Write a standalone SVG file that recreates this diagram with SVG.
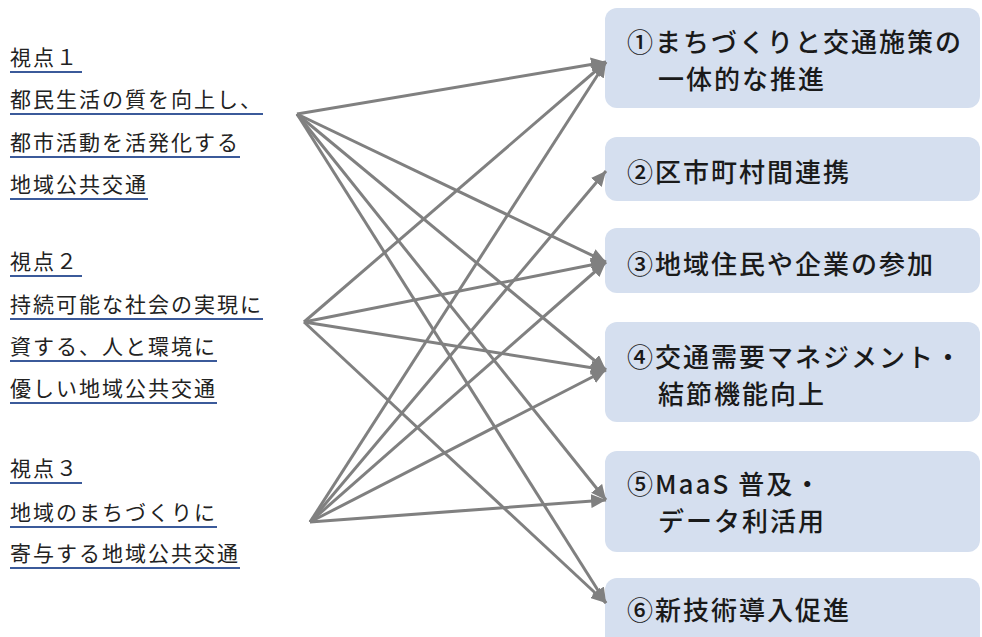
<svg xmlns="http://www.w3.org/2000/svg" width="982" height="637" viewBox="0 0 982 637">
<style>
.lt{font-family:"Noto Sans CJK JP","Noto Sans",sans-serif;font-size:21px;letter-spacing:2px;fill:#222}
.ul{stroke:#3b5a9a;stroke-width:2}
.box{fill:#d5dfef}
.bt{font-family:"Noto Sans CJK JP","Noto Sans",sans-serif;font-size:26px;font-weight:500;letter-spacing:2px;fill:#1a1a1a}
.cn{stroke:#808080;stroke-width:3;fill:none;marker-end:url(#ah)}
</style>
<defs>
<marker id="ah" markerUnits="userSpaceOnUse" markerWidth="16" markerHeight="14" refX="15" refY="7" orient="auto">
<path d="M0,0 L15,7 L0,14 z" fill="#808080"/>
</marker>
</defs>
<rect width="982" height="637" fill="#ffffff"/>
<g id="view1">
<text class="lt" x="10" y="65">視点１</text><line class="ul" x1="10" y1="72" x2="82" y2="72"/>
<text class="lt" x="10" y="107">都民生活の質を向上し、</text><line class="ul" x1="10" y1="114" x2="263" y2="114"/>
<text class="lt" x="10" y="150">都市活動を活発化する</text><line class="ul" x1="10" y1="157" x2="240" y2="157"/>
<text class="lt" x="10" y="192">地域公共交通</text><line class="ul" x1="10" y1="199" x2="148" y2="199"/>
</g>
<g id="view2">
<text class="lt" x="10" y="269">視点２</text><line class="ul" x1="10" y1="276" x2="82" y2="276"/>
<text class="lt" x="10" y="312">持続可能な社会の実現に</text><line class="ul" x1="10" y1="319" x2="263" y2="319"/>
<text class="lt" x="10" y="354">資する、人と環境に</text><line class="ul" x1="10" y1="361" x2="217" y2="361"/>
<text class="lt" x="10" y="396">優しい地域公共交通</text><line class="ul" x1="10" y1="403" x2="217" y2="403"/>
</g>
<g id="view3">
<text class="lt" x="10" y="476">視点３</text><line class="ul" x1="10" y1="483" x2="82" y2="483"/>
<text class="lt" x="10" y="520">地域のまちづくりに</text><line class="ul" x1="10" y1="527" x2="217" y2="527"/>
<text class="lt" x="10" y="561">寄与する地域公共交通</text><line class="ul" x1="10" y1="568" x2="240" y2="568"/>
</g>
<g id="box1"><rect class="box" x="605" y="8" width="375" height="100" rx="12"/>
<text class="bt" x="627" y="52">①まちづくりと交通施策の</text><text class="bt" x="658" y="89">一体的な推進</text></g>
<g id="box2"><rect class="box" x="605" y="137" width="375" height="64" rx="12"/>
<text class="bt" x="627" y="182">②区市町村間連携</text></g>
<g id="box3"><rect class="box" x="605" y="228" width="375" height="65" rx="12"/>
<text class="bt" x="627" y="274">③地域住民や企業の参加</text></g>
<g id="box4"><rect class="box" x="605" y="322" width="375" height="100" rx="12"/>
<text class="bt" x="627" y="367">④交通需要マネジメント・</text><text class="bt" x="658" y="404">結節機能向上</text></g>
<g id="box5"><rect class="box" x="605" y="451" width="375" height="101" rx="12"/>
<text class="bt" x="627" y="494">⑤MaaS 普及・</text><text class="bt" x="658" y="531">データ利活用</text></g>
<g id="box6"><rect class="box" x="605" y="578" width="375" height="75" rx="12"/>
<text class="bt" x="627" y="620">⑥新技術導入促進</text></g>
<g id="connectors">
<line class="cn" x1="297" y1="114" x2="606" y2="62"/>
<line class="cn" x1="297" y1="114" x2="606" y2="262"/>
<line class="cn" x1="297" y1="114" x2="606" y2="370"/>
<line class="cn" x1="297" y1="114" x2="606" y2="500"/>
<line class="cn" x1="297" y1="114" x2="606" y2="603"/>
<line class="cn" x1="304" y1="322" x2="606" y2="62"/>
<line class="cn" x1="304" y1="322" x2="606" y2="262"/>
<line class="cn" x1="304" y1="322" x2="606" y2="370"/>
<line class="cn" x1="304" y1="322" x2="606" y2="603"/>
<line class="cn" x1="310" y1="522" x2="606" y2="62"/>
<line class="cn" x1="310" y1="522" x2="606" y2="171"/>
<line class="cn" x1="310" y1="522" x2="606" y2="262"/>
<line class="cn" x1="310" y1="522" x2="606" y2="370"/>
<line class="cn" x1="310" y1="522" x2="606" y2="500"/>
</g>
</svg>
